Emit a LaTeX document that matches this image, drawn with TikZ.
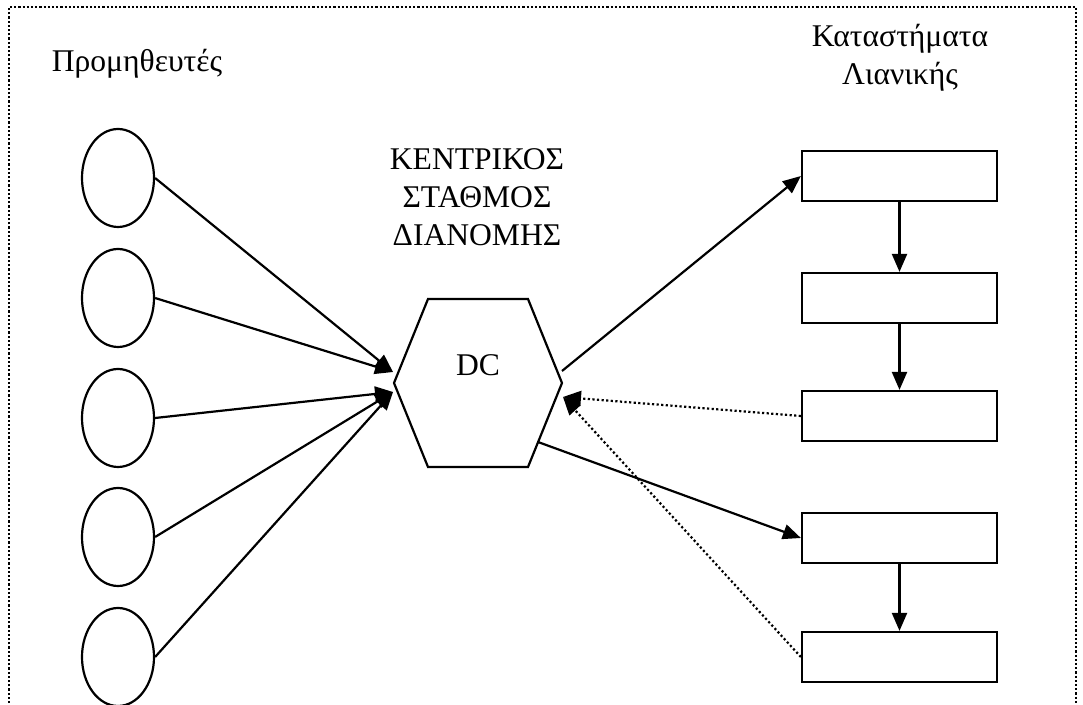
\documentclass[tikz,border=0pt]{standalone}
\usepackage{fontspec}
\setmainfont{Liberation Serif}
\usetikzlibrary{shapes.geometric,arrows.meta}
\begin{document}
\begin{tikzpicture}[x=0.5pt,y=-0.5pt,line width=1.1pt,line join=miter,
		font=\fontsize{15.8}{19}\selectfont,
		supplier/.style={draw,ellipse,minimum width=36pt,minimum height=49pt,inner sep=0pt},
		store/.style={draw,rectangle,minimum width=97.5pt,minimum height=25pt,inner sep=0pt},
		flow/.style={-{Triangle[length=9pt,width=7.5pt]}},
		backflow/.style={flow,dash pattern=on 1.1pt off 1.2pt}]
				\useasboundingbox (0,0) rectangle (1083,705);
				%\draw[thin,color=gray!50] (0,0) grid[step=50] (1083,705);
				\draw[dash pattern=on 1.1pt off 1pt] (9,720)--(9,7)--(1076,7)--(1076,720);
				% labels
				\node[anchor=base] (suplabel) at (137,72) {Προμηθευτές};
				\node[align=center,inner sep=0pt] (storelabel) at (900,58) {Καταστήματα\\Λιανικής};
				\node[align=center,inner sep=0pt] (dclabel) at (477,197) {ΚΕΝΤΡΙΚΟΣ\\ΣΤΑΘΜΟΣ\\ΔΙΑΝΟΜΗΣ};
				% distribution centre
				\draw (394,383)--(428,299)--(528,299)--(562,383)--(528,467)--(428,467)--cycle;
				\node[anchor=base] (dc) at (478,376) {DC};
				\coordinate (inA) at (393,372);
				\coordinate (inB) at (393,392);
				\coordinate (outA) at (562,371);
				\coordinate (outB) at (538,442);
				\coordinate (backin) at (563,397);
				% suppliers
				\node[supplier] (s1) at (118,178) {};
				\node[supplier] (s2) at (118,298) {};
				\node[supplier] (s3) at (118,418) {};
				\node[supplier] (s4) at (118,537) {};
				\node[supplier] (s5) at (118,657) {};
				% stores
				\node[store] (r1) at (899.5,176) {};
				\node[store] (r2) at (899.5,298) {};
				\node[store] (r3) at (899.5,416) {};
				\node[store] (r4) at (899.5,538) {};
				\node[store] (r5) at (899.5,657) {};
				\draw[flow] (s1.east)--(inA);
				\draw[flow] (s2.east)--(inA);
				\draw[flow] (s3.east)--(inB);
				\draw[flow] (s4.east)--(inB);
				\draw[flow] (s5.east)--(inB);
				\draw[flow] (outA)--(r1.west);
				\draw[flow] (outB)--(r4.west);
				\draw[flow] (r1.south)--(r2.north);
				\draw[flow] (r2.south)--(r3.north);
				\draw[flow] (r4.south)--(r5.north);
				\draw[backflow] (r3.west)--(backin);
				\draw[backflow] (r5.west)--(backin);
		\end{tikzpicture}
\end{document}
